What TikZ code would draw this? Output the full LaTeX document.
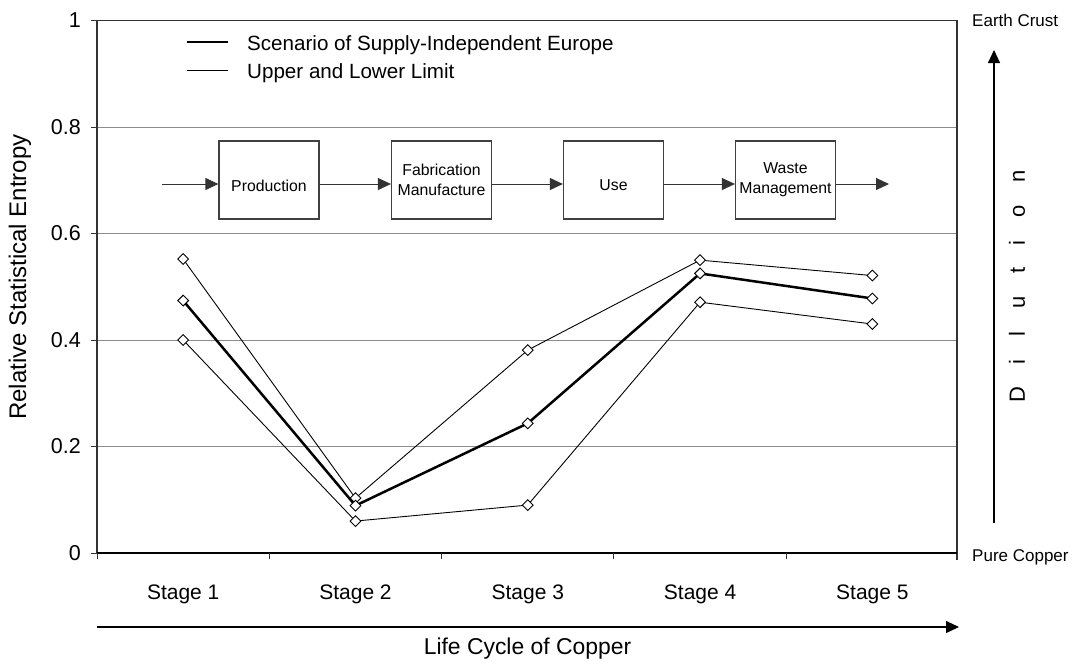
\documentclass[tikz,border=0pt]{standalone}
\usepackage{fontspec}
\setmainfont{Liberation Sans}
\usetikzlibrary{arrows.meta,plotmarks}

\tikzset{
  frameline/.style={draw=black!80, line width=1.3pt},
  gridline/.style={draw=black!45, line width=1pt},
  tickline/.style={draw=black!80, line width=1pt},
  flowbox/.style={draw=black!75, line width=1.2pt, minimum width=100pt, minimum height=78pt,
    inner sep=1pt, align=center, font=\fontsize{15.8}{20}\selectfont},
  flowarrow/.style={draw=black!80, line width=1pt, -{Triangle[length=13pt,width=12pt]}},
  bigarrow/.style={draw=black, line width=1.1pt, -{Triangle[length=13pt,width=12pt]}},
  thinseries/.style={draw=black, line width=0.9pt, mark=square*, mark size=3.8pt,
    mark options={rotate=45, fill=white, draw=black, line width=0.9pt}},
  thickseries/.style={draw=black, line width=2.5pt, mark=square*, mark size=3.8pt,
    mark options={rotate=45, fill=white, draw=black, line width=0.9pt}},
  ticklabel/.style={anchor=east, inner sep=0pt, font=\fontsize{21.5}{24}\selectfont},
  stagelabel/.style={anchor=base, inner sep=0pt, font=\fontsize{21}{24}\selectfont},
  legendtext/.style={anchor=base west, inner sep=0pt, font=\fontsize{20.6}{24}\selectfont},
  sidetext/.style={inner sep=0pt, font=\fontsize{17}{20}\selectfont},
}

\begin{document}
\begin{tikzpicture}[x=1pt, y=-1pt]
\useasboundingbox (0,0) rectangle (1076,662);

% horizontal grid at 0.2 steps
\foreach \gy in {446.5,340,233.5,127} {
  \draw[gridline] (97,\gy) -- (957,\gy);
}

% frame: left axis, top and right border
\draw[frameline] (97,553) -- (97,20.5) -- (957,20.5) -- (957,560);
% value ticks on the left axis
\foreach \gy in {553,446.5,340,233.5,127,20.5} {
  \draw[tickline] (91,\gy) -- (97,\gy);
}
% bottom axis with category ticks
\draw[draw=black, line width=2.2pt] (97,553) -- (957,553);
\foreach \gx in {97,269.3,441.6,613.9,786.2} {
  \draw[tickline] (\gx,553) -- (\gx,559);
}

% value tick labels
\node[ticklabel] (v0)  at (81,553)   {0};
\node[ticklabel] (v2)  at (81,446.5) {0.2};
\node[ticklabel] (v4)  at (81,340)   {0.4};
\node[ticklabel] (v6)  at (81,233.5) {0.6};
\node[ticklabel] (v8)  at (81,127)   {0.8};
\node[ticklabel] (v10) at (81,20.5)  {1};

% axis title
\node[rotate=90, inner sep=0pt, font=\fontsize{24}{28}\selectfont] (ytitle) at (20,277)
  {Relative Statistical Entropy};

% stage labels
\node[stagelabel] (s1) at (183.2,599) {Stage 1};
\node[stagelabel] (s2) at (355.5,599) {Stage 2};
\node[stagelabel] (s3) at (527.8,599) {Stage 3};
\node[stagelabel] (s4) at (700.1,599) {Stage 4};
\node[stagelabel] (s5) at (872.4,599) {Stage 5};

% life-cycle arrow
\coordinate (lcstart) at (97,627);
\coordinate (lcend) at (959,627);
\draw[bigarrow] (lcstart) -- (lcend);
\node[anchor=base, inner sep=0pt, font=\fontsize{22.9}{26}\selectfont] (lctitle) at (527.5,654)
  {Life Cycle of Copper};

% dilution scale on the right
\node[sidetext, anchor=west] (crust) at (972,20.5) {Earth Crust};
\node[sidetext, anchor=base west] (pure) at (972,561) {Pure Copper};
\coordinate (dilbot) at (994,523);
\coordinate (diltop) at (994,50);
\draw[bigarrow] (dilbot) -- (diltop);
\node[rotate=90, inner sep=0pt, font=\fontsize{22}{26}\selectfont] (dilution) at (1017,286.5)
  {D\hskip22.8pt i\hskip22.8pt l\hskip22.8pt u\hskip22.8pt t\hskip22.8pt i\hskip22.8pt o\hskip22.8pt n};

% legend
\coordinate (lgA1) at (187,42);
\coordinate (lgA2) at (228,42);
\coordinate (lgB1) at (187,70);
\coordinate (lgB2) at (228,70);
\draw[draw=black, line width=2.5pt] (lgA1) -- (lgA2);
\draw[draw=black, line width=1pt] (lgB1) -- (lgB2);
\node[legendtext] (lgA) at (247,50) {Scenario of Supply-Independent Europe};
\node[legendtext] (lgB) at (247,78.5) {Upper and Lower Limit};

% process chain
\node[flowbox] (prod)  at (269,180)   {};
\node[flowbox] (fab)   at (441.5,180) {Fabrication\\Manufacture};
\node[flowbox] (use)   at (613.5,180) {};
\node[flowbox] (waste) at (785.5,180) {Waste\\Management};
\node[inner sep=0pt, font=\fontsize{15.8}{20}\selectfont] (prodtext) at (269,185.5) {Production};
\node[inner sep=0pt, font=\fontsize{15.8}{20}\selectfont] (usetext) at (613.5,185) {Use};
\coordinate (flowin) at (162,184);
\coordinate (flowout) at (889,184);
\draw[flowarrow] (flowin) -- ([yshift=-4pt]prod.west);
\draw[flowarrow] ([yshift=-4pt]prod.east) -- ([yshift=-4pt]fab.west);
\draw[flowarrow] ([yshift=-4pt]fab.east) -- ([yshift=-4pt]use.west);
\draw[flowarrow] ([yshift=-4pt]use.east) -- ([yshift=-4pt]waste.west);
\draw[flowarrow] ([yshift=-4pt]waste.east) -- (flowout);

% data series: stage index along x, entropy along y
\begin{scope}[shift={(97,553)}, x=172.3pt, y=532.5pt]
  \draw[thinseries] plot coordinates {(0.5,0.552) (1.5,0.103) (2.5,0.381) (3.5,0.550) (4.5,0.521)};
  \draw[thinseries] plot coordinates {(0.5,0.400) (1.5,0.060) (2.5,0.090) (3.5,0.471) (4.5,0.430)};
  \draw[thickseries] plot coordinates {(0.5,0.474) (1.5,0.089) (2.5,0.2435) (3.5,0.525) (4.5,0.478)};
\end{scope}
\end{tikzpicture}
\end{document}
